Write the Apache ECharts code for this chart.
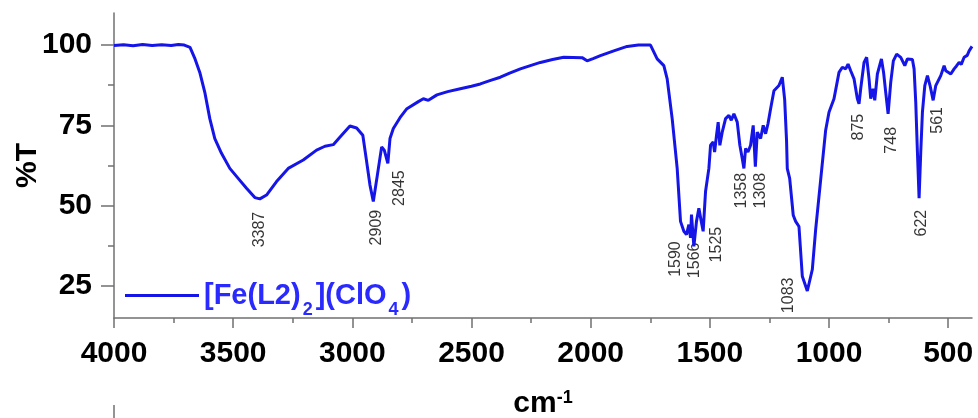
<!DOCTYPE html>
<html>
<head>
<meta charset="utf-8">
<script src="https://cdn.jsdelivr.net/npm/echarts@6.0.0/dist/echarts.min.js"></script>
<style>
  html, body { margin: 0; padding: 0; background: #fff; }
  #chart { width: 978px; height: 418px; }
</style>
</head>
<body>
<div id="chart"></div>
<script>
// IR spectrum of [Fe(L2)2](ClO4)
var seriesName = '[Fe(L2)2](ClO4)';

var wavenumber = [
    4000, 3960, 3920, 3880, 3840, 3800, 3760, 3730, 3705, 3681,
    3660, 3640, 3619, 3598, 3577, 3549, 3514, 3479, 3444, 3409,
    3388, 3360, 3318, 3269, 3206, 3150, 3115, 3080, 3045, 3010,
    2982, 2956, 2940, 2926, 2912, 2895, 2877, 2866, 2851, 2842,
    2828, 2800, 2771, 2723, 2702, 2681, 2645, 2600, 2547, 2500,
    2463, 2420, 2379, 2340, 2295, 2250, 2211, 2160, 2113, 2036,
    2015, 1990, 1959, 1903, 1847, 1800, 1749, 1742, 1721, 1693,
    1679, 1658, 1637, 1623, 1609, 1598, 1588, 1581, 1577, 1567,
    1556, 1546, 1536, 1528, 1518, 1504, 1497, 1486, 1480, 1472,
    1465, 1458, 1448, 1434, 1420, 1410, 1399, 1385, 1374, 1364,
    1357, 1350, 1340, 1329, 1318, 1309, 1301, 1287, 1276, 1266,
    1256, 1245, 1231, 1210, 1196, 1186, 1178, 1175, 1165, 1150,
    1140, 1126, 1112, 1091, 1070, 1056, 1035, 1014, 1000, 979,
    958, 944, 930, 920, 909, 895, 881, 874, 867, 853,
    842, 832, 825, 815, 808, 797, 780, 771, 762, 752,
    741, 730, 716, 699, 682, 671, 650, 643, 636, 629,
    622, 615, 608, 598, 587, 576, 563, 552, 531, 517,
    510, 503, 489, 475, 465, 454, 445, 433, 420, 412,
    405, 400
];
var transmittance = [
    99.9, 100.1, 99.8, 100.2, 99.9, 100.1, 99.9, 100.2, 100.0, 99.3,
    95.7, 91.5, 85.3, 77.1, 70.9, 66.3, 61.6, 58.5, 55.4, 52.5,
    52.1, 53.3, 57.5, 61.6, 64.2, 67.3, 68.5, 69.0, 71.9, 74.8,
    74.2, 71.9, 63.7, 56.4, 51.3, 59.5, 68.3, 67.3, 63.2, 70.9,
    74.0, 77.4, 80.2, 82.4, 83.3, 82.8, 84.5, 85.5, 86.4, 87.2,
    87.9, 89.0, 90.0, 91.3, 92.6, 93.7, 94.6, 95.5, 96.2, 96.1,
    95.1, 95.8, 96.7, 98.2, 99.6, 100.0, 100.0, 99.8, 95.7, 93.6,
    89.5, 77.1, 61.6, 45.1, 42.0, 41.0, 44.1, 40.0, 47.2, 37.3,
    45.1, 49.2, 45.1, 42.0, 54.4, 61.6, 68.8, 69.8, 66.7, 71.9,
    76.0, 68.8, 72.9, 77.1, 78.1, 76.6, 78.6, 76.0, 68.8, 64.7,
    61.6, 67.8, 66.7, 68.8, 75.0, 62.1, 72.9, 70.9, 75.0, 72.4,
    75.5, 80.2, 85.8, 87.4, 90.0, 83.0, 70.0, 61.5, 58.5, 47.0,
    45.1, 43.5, 28.0, 23.4, 30.1, 42.5, 58.0, 73.5, 79.1, 83.3,
    91.5, 93.1, 92.6, 94.1, 92.0, 89.5, 83.3, 81.7, 86.4, 94.6,
    96.2, 89.5, 83.3, 86.4, 82.8, 91.0, 95.7, 91.5, 85.3, 78.6,
    88.4, 95.1, 97.2, 96.2, 93.6, 95.7, 95.5, 92.6, 82.2, 66.7,
    52.3, 66.7, 79.1, 87.4, 90.5, 87.4, 82.8, 87.4, 90.5, 93.6,
    92.0, 91.5, 91.0, 92.6, 93.5, 94.6, 94.0, 96.2, 96.8, 98.2,
    98.8, 99.6
];

// peak labels: text, anchor wavenumber, anchor %T (top of the rotated text)
var peakText = ['3387', '2909', '2845', '1590', '1566', '1525', '1358', '1308', '1083', '875', '748', '622', '561'];
var peakX = [3388, 2900, 2801, 1644, 1566, 1470, 1365, 1289, 1171, 874, 737, 613, 543];
var peakY = [48.1, 48.7, 61.0, 38.9, 38.5, 43.4, 60.2, 60.2, 27.6, 78.6, 74.5, 48.7, 80.7];

var xTicks = [4000, 3500, 3000, 2500, 2000, 1500, 1000, 500];
var xMinorTicks = [3750, 3250, 2750, 2250, 1750, 1250, 750];
var yTicks = [25, 50, 75, 100];
var yMinorTicks = [37.5, 62.5, 87.5];

var font = 'Liberation Sans, Arial, sans-serif';
var axisColor = '#707070';
var lineColor = '#1515e8';

var lineData = wavenumber.map(function (w, i) {
    return [w, transmittance[i]];
});
var peakData = peakText.map(function (t, i) {
    return [peakX[i], peakY[i], t];
});

var plain = function (v) {
    return String(v);
};

var chart = echarts.init(document.getElementById('chart'));

var option = {
    animation: false,
    backgroundColor: '#fff',
    grid: {
        left: 114,
        right: 6,
        top: 13,
        bottom: 100,
        containLabel: false,
        outerBoundsMode: 'none'
    },
    legend: {
        left: 120,
        top: 267,
        icon: 'rect',
        itemWidth: 74,
        itemHeight: 3,
        itemStyle: { color: lineColor },
        data: [seriesName],
        formatter: function () {
            return '{a|[Fe(L2)}{b|2}{a|](ClO}{b|4}{a|)}';
        },
        textStyle: {
            rich: {
                a: {
                    fontFamily: font,
                    fontSize: 29,
                    fontWeight: 'bold',
                    color: '#2a2aff',
                    lineHeight: 30,
                    verticalAlign: 'middle'
                },
                b: {
                    fontFamily: font,
                    fontSize: 18,
                    fontWeight: 'bold',
                    color: '#2a2aff',
                    lineHeight: 18,
                    padding: [29, 3, 0, 2],
                    verticalAlign: 'middle'
                }
            }
        }
    },
    xAxis: [
        {
            type: 'value',
            min: 400,
            max: 4000,
            inverse: true,
            name: '{a|cm}{b|-1}',
            nameLocation: 'middle',
            nameGap: 71,
            nameTextStyle: {
                rich: {
                    a: { fontFamily: font, fontSize: 30, fontWeight: 'bold', color: '#000', verticalAlign: 'bottom', lineHeight: 30 },
                    b: { fontFamily: font, fontSize: 18, fontWeight: 'bold', color: '#000', verticalAlign: 'top', lineHeight: 18 }
                }
            },
            axisLine: { show: true, lineStyle: { color: axisColor, width: 1.5 } },
            axisTick: { show: true, length: 10, customValues: xTicks, lineStyle: { color: axisColor, width: 1.5 } },
            axisLabel: {
                customValues: xTicks,
                formatter: plain,
                margin: 21,
                fontFamily: font,
                fontSize: 30,
                fontWeight: 'bold',
                color: '#000'
            },
            splitLine: { show: false }
        },
        {
            type: 'value',
            min: 400,
            max: 4000,
            inverse: true,
            position: 'bottom',
            axisLine: { show: false },
            axisTick: { show: true, length: 5, customValues: xMinorTicks, lineStyle: { color: axisColor, width: 1.5 } },
            axisLabel: { show: false },
            splitLine: { show: false }
        }
    ],
    yAxis: [
        {
            type: 'value',
            min: 15,
            max: 110,
            name: '%T',
            nameLocation: 'middle',
            nameRotate: 90,
            nameGap: 71,
            nameMoveOverlap: false,
            nameTextStyle: { fontFamily: font, fontSize: 30, fontWeight: 'bold', color: '#000' },
            axisLine: { show: true, lineStyle: { color: axisColor, width: 1.5 } },
            axisTick: { show: true, length: 13, customValues: yTicks, lineStyle: { color: axisColor, width: 1.5 } },
            axisLabel: {
                customValues: yTicks,
                formatter: plain,
                margin: 22,
                fontFamily: font,
                fontSize: 30,
                fontWeight: 'bold',
                color: '#000'
            },
            splitLine: { show: false }
        },
        {
            type: 'value',
            min: 15,
            max: 110,
            position: 'left',
            axisLine: { show: false },
            axisTick: { show: true, length: 6, customValues: yMinorTicks, lineStyle: { color: axisColor, width: 1.5 } },
            axisLabel: { show: false },
            splitLine: { show: false }
        }
    ],
    series: [
        {
            name: seriesName,
            type: 'line',
            data: lineData,
            showSymbol: false,
            symbol: 'none',
            lineStyle: { color: lineColor, width: 3 },
            itemStyle: { color: lineColor },
            silent: true
        },
        {
            name: 'peaks',
            type: 'scatter',
            data: peakData,
            symbolSize: 1,
            itemStyle: { color: 'rgba(0,0,0,0)' },
            silent: true,
            label: {
                show: true,
                position: 'inside',
                rotate: 90,
                align: 'right',
                verticalAlign: 'middle',
                fontFamily: font,
                fontSize: 16,
                color: '#000',
                formatter: function (p) {
                    return p.data[2];
                }
            }
        }
    ],
    graphic: [
        {
            type: 'line',
            shape: { x1: 114, y1: 405, x2: 114, y2: 418 },
            style: { stroke: axisColor, lineWidth: 1.5 }
        }
    ]
};

chart.setOption(option);
</script>
</body>
</html>
